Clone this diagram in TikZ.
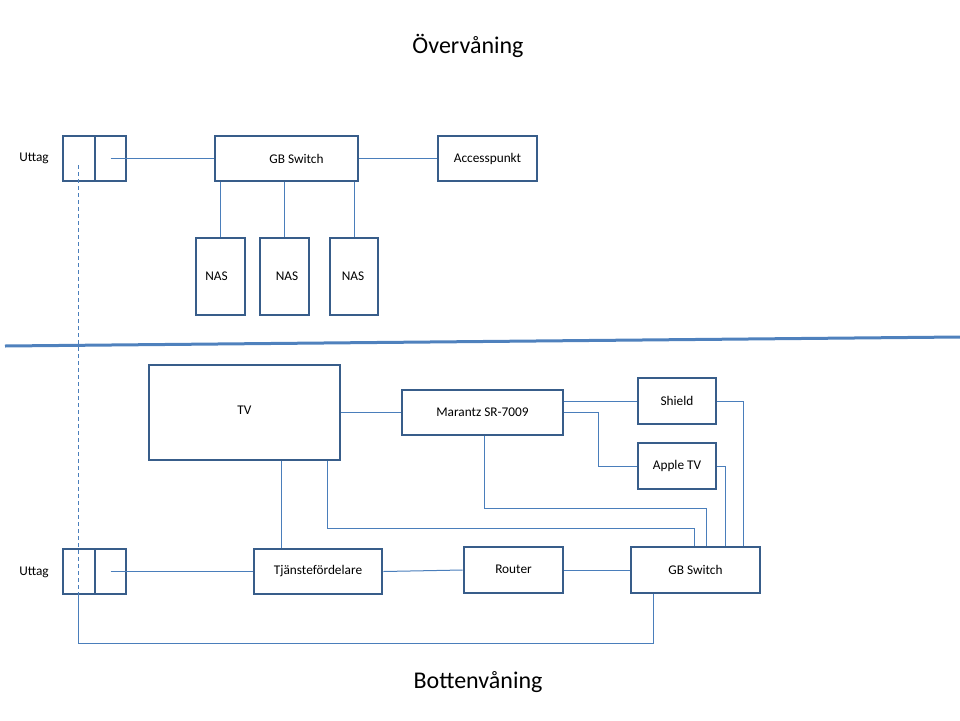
\documentclass[tikz,border=0pt]{standalone}
\usepackage{fontspec}
\setmainfont{Carlito}
\usetikzlibrary{calc}
\definecolor{boxc}{HTML}{385D8A}
\definecolor{linec}{HTML}{4A7EBB}
\definecolor{sepc}{HTML}{4F81BD}
\begin{document}
\begin{tikzpicture}[x=1pt,y=-1pt,
 box/.style={draw=boxc,line width=2.6pt,fill=white,inner sep=0pt,font=\fontsize{13.3}{15}\selectfont},
 conn/.style={draw=linec,line width=1pt},
 lbl/.style={font=\fontsize{13.3}{15}\selectfont,inner sep=0pt},
 ttl/.style={font=\fontsize{24}{28}\selectfont,inner sep=0pt}]
\useasboundingbox (0,0) rectangle (960,720);
% titles
\node[ttl] (t1) at (468,46) {Övervåning};
\node[ttl] (t2) at (478,682) {Bottenvåning};
% top floor
\node[lbl] (ut1) at (34,158) {Uttag};
\node[box,minimum width=32pt,minimum height=45pt] (utL) at (79,158.5) {};
\node[box,minimum width=31pt,minimum height=45pt] (utR) at (110.5,158.5) {};
\node[box,minimum width=143pt,minimum height=45pt] (gbt) at (286.5,158.5) {\hspace*{20pt}GB Switch};
\node[box,minimum width=99pt,minimum height=45pt] (ap) at (487.5,158.5) {Accesspunkt};
\node[box,minimum width=49pt,minimum height=77pt] (nas1) at (220.5,276.5) {\hspace*{-8pt}NAS};
\node[box,minimum width=49pt,minimum height=77pt] (nas2) at (284.5,276.5) {\hspace*{5pt}NAS};
\node[box,minimum width=48pt,minimum height=77pt] (nas3) at (354,276.5) {\hspace*{-2pt}NAS};
% separator
\coordinate (sepA) at (5,346);
\coordinate (sepB) at (960,337);
\draw[sepc,line width=3pt] (sepA) -- (sepB);
% bottom floor
\node[box,minimum width=191pt,minimum height=95pt] (tv) at (244.5,412.5) {\raisebox{4pt}{TV}};
\node[box,minimum width=161pt,minimum height=45pt] (mar) at (482.5,412.5) {Marantz SR-7009};
\node[box,minimum width=78pt,minimum height=46pt] (shield) at (677,401) {Shield};
\node[box,minimum width=78pt,minimum height=46pt] (atv) at (677,466) {Apple TV};
\node[lbl] (ut2) at (34,572) {Uttag};
\node[box,minimum width=32pt,minimum height=45pt] (ubL) at (79,571.5) {};
\node[box,minimum width=31pt,minimum height=45pt] (ubR) at (110.5,571.5) {};
\node[box,minimum width=128pt,minimum height=45pt] (tj) at (318,571.5) {Tjänstefördelare};
\node[box,minimum width=99pt,minimum height=46pt] (rt) at (513.5,570) {\raisebox{2pt}{Router}};
\node[box,minimum width=129pt,minimum height=46pt] (gbb) at (695.5,570) {GB Switch};
% top connectors
\draw[conn] (utR.center) -- (gbt.west);
\draw[conn] (gbt.east) -- (ap.west);
\draw[conn] (nas1.north) -- (nas1.north |- gbt.south);
\draw[conn] (nas2.north) -- (nas2.north |- gbt.south);
\draw[conn] (nas3.north) -- (nas3.north |- gbt.south);
% riser
\coordinate (dtop) at (78,165);
\coordinate (dbot) at (78,594);
\draw[conn,dash pattern=on 4pt off 3pt] (dtop) -- (dbot);
% bottom connectors
\draw[conn] (tv.east) -- (mar.west);
\draw[conn] (shield.west) -- (shield.west -| mar.east);
\draw[conn] (mar.east) -- ++(34,0) |- (atv.west);
\draw[conn] (shield.east) -| ($(gbb.north west)+(114,0)$);
\draw[conn] (atv.east) -| ($(gbb.north west)+(96,0)$);
\draw[conn] ($(mar.south)+(1.5,0)$) -- ++(0,72) -| ($(gbb.north west)+(77,0)$);
\draw[conn] ($(tv.south west)+(180,0)$) -- ++(0,67) -| ($(gbb.north west)+(65,0)$);
\coordinate (tvx) at ($(tv.south west)+(134,0)$);
\draw[conn] (tvx) -- (tvx |- tj.north);
\draw[conn] (ubR.center) -- (tj.west);
\draw[conn] (tj.east) -- (rt.west);
\draw[conn] (rt.east) -- (gbb.west);
\draw[conn] ($(gbb.south west)+(24,0)$) -- ++(0,49) -| (dbot);
\end{tikzpicture}
\end{document}
